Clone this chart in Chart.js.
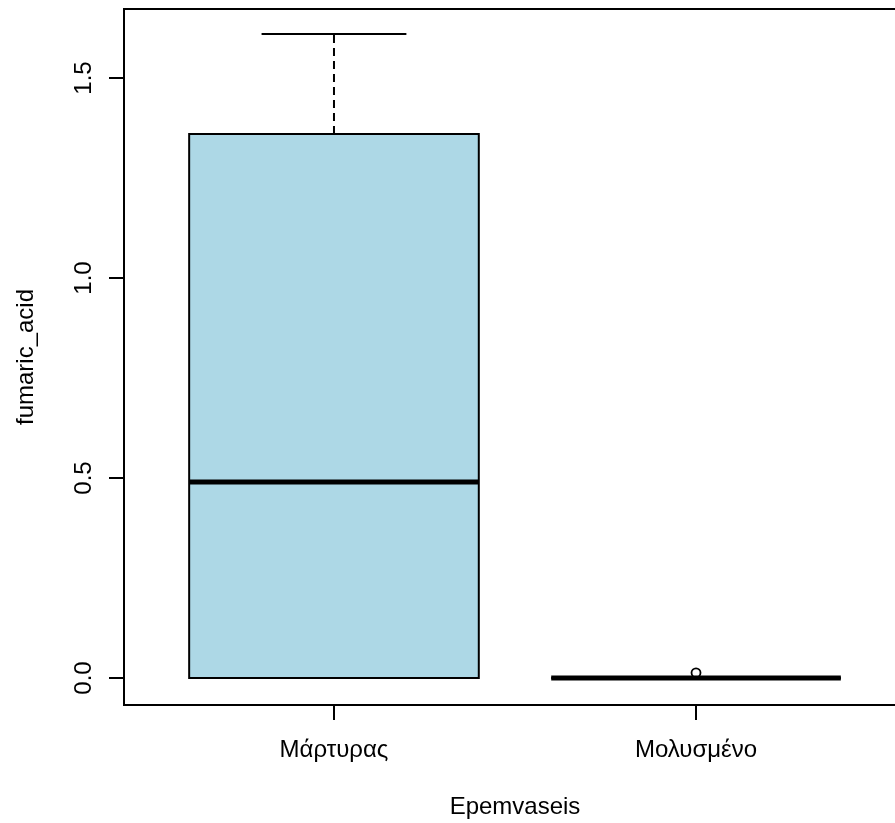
<!DOCTYPE html>
<html>
<head>
<meta charset="utf-8">
<script src="https://cdn.jsdelivr.net/npm/chart.js@4"></script>
<style>
  html, body { margin: 0; padding: 0; background: #fff; overflow: hidden; }
  #wrap { width: 895px; height: 823px; overflow: hidden; }
  canvas { display: block; }
</style>
</head>
<body>
<div id="wrap"><canvas id="boxChart" width="920" height="823"></canvas></div>
<script>
// five-number summaries per group
const groups = ["Μάρτυρας", "Μολυσμένο"];
const whiskerLow = [0, 0];
const q1 = [0, 0];
const median = [0.49, 0];
const q3 = [1.36, 0];
const whiskerHigh = [1.61, 0];
const outliers = [[], [0.013]];
const yTicks = [0, 0.5, 1.0, 1.5];

const FONT_FAMILY = "'Liberation Sans', Arial, sans-serif";
const FONT = { family: FONT_FAMILY, size: 24 };
const BOX_HALF = 0.4;      // half box width, in x units
const TICK_LEN = 15;

function seg(ctx, x1, y1, x2, y2) {
    ctx.beginPath();
    ctx.moveTo(x1, y1);
    ctx.lineTo(x2, y2);
    ctx.stroke();
}

/* ---------- box outlines, whiskers, staples, medians, frame ---------- */
const boxPlot = {
    id: "boxPlot",
    afterDatasetDraw(chart, args) {
        if (args.index !== 0) return;
        const { ctx, scales: { x, y } } = chart;
        ctx.save();
        ctx.strokeStyle = "#000";
        ctx.lineCap = "butt";
        groups.forEach((g, i) => {
            const cx = x.getPixelForValue(i + 1);
            const half = x.getPixelForValue(i + 1 + BOX_HALF) - cx;
            const yHi = y.getPixelForValue(whiskerHigh[i]);
            const yLo = y.getPixelForValue(whiskerLow[i]);
            const yQ1 = y.getPixelForValue(q1[i]);
            const yQ3 = y.getPixelForValue(q3[i]);

            ctx.lineWidth = 2;
            ctx.setLineDash([8, 5]);
            if (whiskerHigh[i] > q3[i]) seg(ctx, cx, yQ3, cx, yHi);
            if (whiskerLow[i] < q1[i]) seg(ctx, cx, yQ1, cx, yLo);
            ctx.setLineDash([]);
            seg(ctx, cx - half / 2, yHi, cx + half / 2, yHi);
            seg(ctx, cx - half / 2, yLo, cx + half / 2, yLo);
            ctx.strokeRect(cx - half, yQ3, 2 * half, yQ1 - yQ3);

            ctx.lineWidth = 5;
            const ym = y.getPixelForValue(median[i]);
            seg(ctx, cx - half, ym, cx + half, ym);
        });
        ctx.restore();
    },
    afterDraw(chart) {
        const { ctx, chartArea, scales: { y } } = chart;
        ctx.save();
        ctx.strokeStyle = "#000";
        ctx.lineWidth = 2;
        ctx.strokeRect(chartArea.left, chartArea.top, chartArea.width, chartArea.height);

        // y tick labels run parallel to the axis
        ctx.fillStyle = "#000";
        ctx.font = `24px ${FONT_FAMILY}`;
        ctx.textAlign = "center";
        ctx.textBaseline = "alphabetic";
        yTicks.forEach(v => {
            ctx.save();
            ctx.translate(chartArea.left - TICK_LEN - 18, y.getPixelForValue(v));
            ctx.rotate(-Math.PI / 2);
            ctx.fillText(v.toFixed(1), 0, 0);
            ctx.restore();
        });
        ctx.restore();
    }
};

const boxData = groups.map((g, i) => ({ x: i + 1, y: [q1[i], q3[i]] }));
const outlierData = [];
outliers.forEach((list, i) => list.forEach(v => outlierData.push({ x: i + 1, y: v })));

new Chart(document.getElementById("boxChart"), {
    type: "bar",
    data: {
        datasets: [
            {
                type: "bar",
                data: boxData,
                backgroundColor: "#ADD8E6",
                borderWidth: 0,
                categoryPercentage: 2 * BOX_HALF,
                barPercentage: 1.0,
                order: 2
            },
            {
                type: "scatter",
                data: outlierData,
                pointStyle: "circle",
                pointRadius: 4.5,
                pointBorderWidth: 1.8,
                pointBorderColor: "#000",
                pointBackgroundColor: "rgba(0,0,0,0)",
                order: 1
            }
        ]
    },
    options: {
        responsive: false,
        animation: false,
        layout: { padding: { top: 9, right: 14, left: 0, bottom: 0 } },
        plugins: { legend: { display: false }, tooltip: { enabled: false } },
        scales: {
            x: {
                type: "linear",
                min: 0.42,
                max: 2.58,
                offset: false,
                afterBuildTicks: s => { s.ticks = groups.map((g, i) => ({ value: i + 1 })); },
                afterFit: s => { s.height = 118; },
                grid: { offset: false, drawOnChartArea: false, drawTicks: true, tickLength: TICK_LEN, color: "#000", lineWidth: 2 },
                border: { display: false },
                ticks: {
                    font: FONT, color: "#000", padding: 16,
                    maxRotation: 0, autoSkip: false,
                    callback: v => groups[v - 1] ?? ""
                },
                title: { display: true, text: "Epemvaseis", font: FONT, color: "#000", padding: { top: 0, bottom: 1 } }
            },
            y: {
                type: "linear",
                min: -0.0675,
                max: 1.6725,
                afterBuildTicks: s => { s.ticks = yTicks.map(v => ({ value: v })); },
                afterFit: s => { s.width = 124; },
                grid: { drawOnChartArea: false, drawTicks: true, tickLength: TICK_LEN, color: "#000", lineWidth: 2 },
                border: { display: false },
                ticks: { display: false },
                title: { display: true, text: "fumaric_acid", font: FONT, color: "#000", padding: { top: 12, bottom: 0 } }
            }
        }
    },
    plugins: [boxPlot]
});
</script>
</body>
</html>
